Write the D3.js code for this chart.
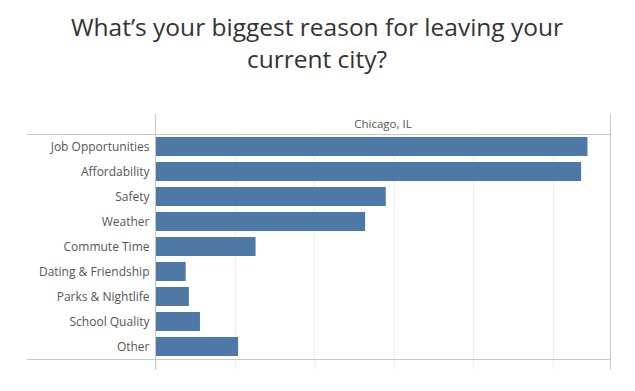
<!DOCTYPE html>
<html>
<head>
<meta charset="utf-8">
<script src="https://cdn.jsdelivr.net/npm/d3@7"></script>
<style>
  body { margin: 0; background: #ffffff; }
  svg { display: block; font-family: 'Open Sans', 'Noto Sans', sans-serif; }
</style>
</head>
<body>
<div id="chart"></div>
<script>
// Survey answers for Chicago, IL (share of respondents, %)
const reasons = [
  'Job Opportunities',
  'Affordability',
  'Safety',
  'Weather',
  'Commute Time',
  'Dating & Friendship',
  'Parks & Nightlife',
  'School Quality',
  'Other'
];
const shares = [27.2, 26.8, 14.5, 13.2, 6.3, 1.9, 2.1, 2.8, 5.2];
const xTicks = [0, 5, 10, 15, 20, 25];
const panelLabel = 'Chicago, IL';
const titleLines = ['What\u2019s your biggest reason for leaving your', 'current city?'];

(function() {
  const W = 635, H = 391;
  const plotLeft = 155.5, plotRight = 610.5;
  const headerTop = 114, rowsTop = 134, rowsBottom = 359;
  const rowLineLeft = 27;

  const textColor = '#555555';
  const borderColor = '#c8c8c8';
  const gridColor = '#efefef';
  const barColor = '#4e79a7';

  const data = reasons.map((r, i) => ({ reason: r, value: shares[i] }));

  const svg = d3.select('#chart')
    .append('svg')
    .attr('width', W)
    .attr('height', H);

  // Title
  svg.append('g')
    .selectAll('text')
    .data(titleLines)
    .enter()
    .append('text')
    .attr('x', 317)
    .attr('y', (d, i) => 36 + i * 32)
    .attr('text-anchor', 'middle')
    .style('font-size', '24.5px')
    .style('fill', '#333333')
    .text(d => d);

  const x = d3.scaleLinear()
    .domain([0, 28.65])
    .range([plotLeft, plotRight]);

  const y = d3.scaleBand()
    .domain(reasons)
    .range([rowsTop, rowsBottom])
    .paddingInner(6 / 25)
    .paddingOuter(3 / 25);

  // clip to hide the tick labels, as in the cut-off original
  svg.append('defs').append('clipPath')
    .attr('id', 'cut')
    .append('rect')
    .attr('x', 0).attr('y', 0)
    .attr('width', W).attr('height', 369.5);

  // Vertical gridlines
  svg.append('g')
    .selectAll('line')
    .data(xTicks.slice(1))
    .enter()
    .append('line')
    .attr('x1', d => Math.round(x(d)) + 0.5)
    .attr('x2', d => Math.round(x(d)) + 0.5)
    .attr('y1', rowsTop)
    .attr('y2', rowsBottom)
    .attr('stroke', gridColor)
    .attr('stroke-width', 1);

  // Bottom axis (labels cut off)
  const xAxis = d3.axisBottom(x)
    .tickValues(xTicks)
    .tickFormat(d => d + '%')
    .tickSizeInner(10)
    .tickSizeOuter(0)
    .tickPadding(1);

  const axisG = svg.append('g')
    .attr('clip-path', 'url(#cut)')
    .append('g')
    .attr('transform', `translate(0, ${rowsBottom})`)
    .call(xAxis);

  axisG.select('.domain').remove();
  axisG.selectAll('.tick line')
    .attr('stroke', gridColor);
  axisG.selectAll('.tick text')
    .style('font-size', '11px')
    .style('fill', '#dddddd');

  // Bars
  svg.append('g')
    .selectAll('rect')
    .data(data)
    .enter()
    .append('rect')
    .attr('x', x(0))
    .attr('y', d => y(d.reason))
    .attr('width', d => x(d.value) - x(0))
    .attr('height', y.bandwidth())
    .attr('fill', barColor);

  // Row labels
  svg.append('g')
    .selectAll('text')
    .data(data)
    .enter()
    .append('text')
    .attr('x', plotLeft - 6)
    .attr('y', d => y(d.reason) + y.bandwidth() / 2)
    .attr('dy', '0.35em')
    .attr('text-anchor', 'end')
    .style('font-size', '12px')
    .style('fill', textColor)
    .text(d => d.reason);

  // Panel header
  svg.append('text')
    .attr('x', (plotLeft + plotRight) / 2)
    .attr('y', 124)
    .attr('dy', '0.35em')
    .attr('text-anchor', 'middle')
    .style('font-size', '11.5px')
    .style('fill', textColor)
    .text(panelLabel);

  // Frame lines
  const frame = svg.append('g')
    .attr('stroke', borderColor)
    .attr('stroke-width', 1)
    .attr('fill', 'none');

  frame.append('line')
    .attr('x1', rowLineLeft).attr('x2', plotRight)
    .attr('y1', rowsTop + 0.5).attr('y2', rowsTop + 0.5);
  frame.append('line')
    .attr('x1', rowLineLeft).attr('x2', plotRight)
    .attr('y1', rowsBottom + 0.5).attr('y2', rowsBottom + 0.5);
  frame.append('line')
    .attr('x1', plotLeft).attr('x2', plotLeft)
    .attr('y1', headerTop).attr('y2', 369.5);
  frame.append('line')
    .attr('x1', plotRight).attr('x2', plotRight)
    .attr('y1', headerTop).attr('y2', 369.5);
})();
</script>
</body>
</html>
